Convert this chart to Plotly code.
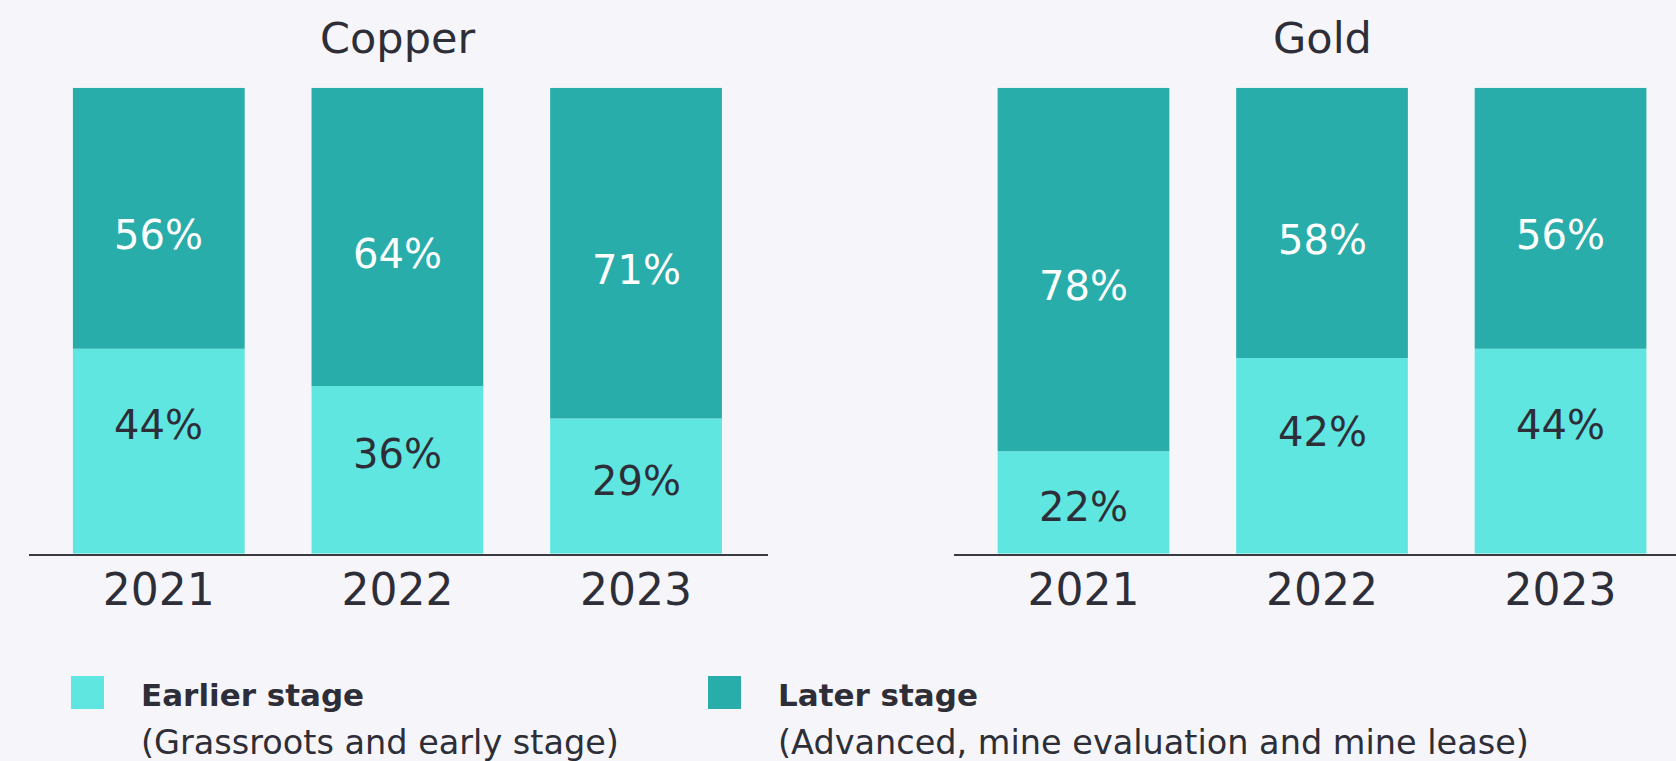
import plotly.graph_objects as go

# Share of exploration budgets by project stage (%)
years = ["2021", "2022", "2023"]
copper_earlier = [44, 36, 29]
copper_later = [56, 64, 71]
gold_earlier = [22, 42, 44]
gold_later = [78, 58, 56]

panels = [
    ("Copper", copper_earlier, copper_later, "x", "y"),
    ("Gold", gold_earlier, gold_later, "x2", "y2"),
]

LIGHT = "#60E6E1"
DARK = "#29ADAA"
INK = "#2E2E38"
BG = "#F6F6FA"
FONT = "DejaVu Sans"

W, H = 1676, 761

fig = go.Figure()

annotations = []
for title, earlier, later, xa, ya in panels:
    fig.add_trace(go.Bar(x=years, y=earlier, marker=dict(color=LIGHT, line=dict(width=0)),
                         width=0.72, xaxis=xa, yaxis=ya, name="Earlier stage",
                         hoverinfo="skip"))
    fig.add_trace(go.Bar(x=years, y=later, base=earlier,
                         marker=dict(color=DARK, line=dict(width=0)),
                         width=0.72, xaxis=xa, yaxis=ya, name="Later stage",
                         hoverinfo="skip"))
    # segment labels: the lower label sits above the middle of its segment,
    # lifted more for taller segments; the upper label sits just below its middle
    for i, (e, l) in enumerate(zip(earlier, later)):
        annotations.append(dict(x=i, y=e / 2 + 0.3 * (e - 25), xref=xa, yref=ya,
                                text=f"{e}%", showarrow=False,
                                font=dict(family=FONT, size=40, color=INK)))
        annotations.append(dict(x=i, y=e + l / 2, xref=xa, yref=ya, text=f"{l}%",
                                showarrow=False, yshift=-17,
                                font=dict(family=FONT, size=40, color="white")))
    annotations.append(dict(x=1, y=(H - 38) / H, xref=xa, yref="paper",
                            text=title, showarrow=False, yanchor="middle",
                            font=dict(family=FONT, size=43, color=INK)))

# legend drawn as swatches plus two-line captions
legend_items = [
    ("Earlier stage", "(Grassroots and early stage)", LIGHT, 71),
    ("Later stage", "(Advanced, mine evaluation and mine lease)", DARK, 708),
]
shapes = []
for head, sub, col, px in legend_items:
    shapes.append(dict(type="rect", xref="paper", yref="paper",
                       x0=px / W, x1=(px + 33) / W,
                       y0=(H - 709) / H, y1=(H - 676) / H,
                       fillcolor=col, line=dict(width=0)))
    annotations.append(dict(x=(px + 68) / W, y=(H - 695) / H, xref="paper", yref="paper",
                            text=head, showarrow=False, xanchor="left", yanchor="middle",
                            font=dict(family=FONT, size=31, color=INK, weight="bold")))
    annotations.append(dict(x=(px + 68) / W, y=(H - 742) / H, xref="paper", yref="paper",
                            text=sub, showarrow=False, xanchor="left", yanchor="middle",
                            font=dict(family=FONT, size=33.5, color=INK)))

ydom = [(H - 553.7) / H, (H - 87.7) / H]
xaxis_common = dict(type="category", showgrid=False, zeroline=False, showline=True,
                    linecolor="#3A3A40", linewidth=1.5, ticks="",
                    tickfont=dict(family=FONT, size=44, color=INK),
                    ticklabelstandoff=-3, fixedrange=True)
yaxis_common = dict(range=[0, 100], showgrid=False, zeroline=False, showline=False,
                    showticklabels=False, fixedrange=True)

fig.update_layout(
    width=W, height=H,
    margin=dict(l=0, r=0, t=0, b=0),
    paper_bgcolor=BG, plot_bgcolor=BG,
    barmode="overlay", showlegend=False,
    xaxis=dict(domain=[29 / W, 767.5 / W], range=[-0.544, 2.551], **xaxis_common),
    xaxis2=dict(domain=[953.5 / W, 1.0], range=[-0.545, 2.484], **xaxis_common),
    yaxis=dict(domain=ydom, anchor="x", **yaxis_common),
    yaxis2=dict(domain=ydom, anchor="x2", **yaxis_common),
    annotations=annotations,
    shapes=shapes,
)

fig.write_html("out.html")
